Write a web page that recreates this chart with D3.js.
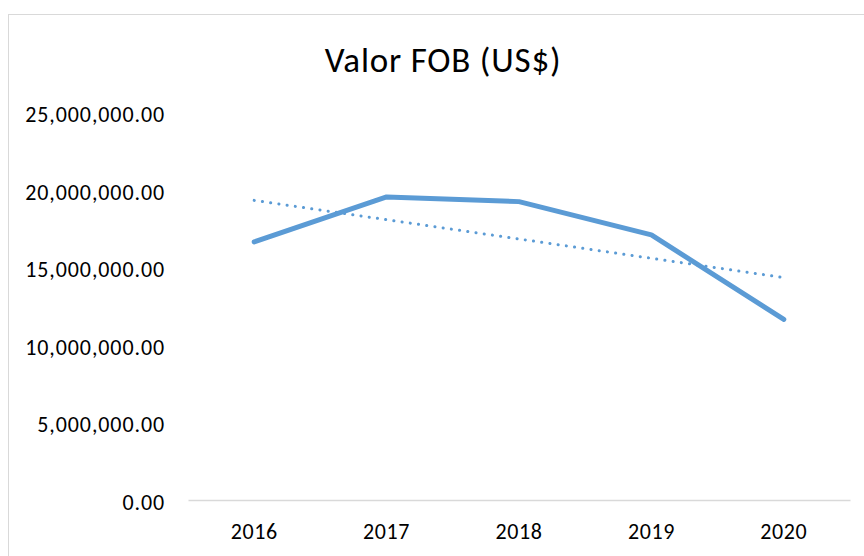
<!DOCTYPE html>
<html>
<head>
<meta charset="utf-8">
<script src="https://cdn.jsdelivr.net/npm/d3@7"></script>
<style>
  body { margin: 0; background: #fff; }
  text { font-family: Calibri, Carlito, Lato, sans-serif; fill: #000; }
</style>
</head>
<body>
<svg id="chart" width="864" height="556"></svg>
<script>
// values
var years = ["2016", "2017", "2018", "2019", "2020"];
var fobValues = [16650000, 19550000, 19250000, 17100000, 11650000];
var yTicks = [0, 5000000, 10000000, 15000000, 20000000, 25000000];

var svg = d3.select("#chart"),
    width = +svg.attr("width"),
    height = +svg.attr("height"),
    blue = "#5b9bd5";

var margin = {left: 188, right: 14, top: 112.5, bottom: 56};

// chart area border (cut at right and bottom like the picture)
svg.append("rect")
    .attr("x", 8.5).attr("y", 14.5)
    .attr("width", width).attr("height", height)
    .attr("fill", "none")
    .attr("stroke", "#d9d9d9");

var x = d3.scaleBand()
    .domain(years)
    .range([margin.left, width - margin.right]);

var y = d3.scaleLinear()
    .domain([0, 25000000])
    .range([height - margin.bottom, margin.top]);

svg.append("text")
    .attr("x", 443).attr("y", 72)
    .attr("text-anchor", "middle")
    .style("font-size", "35px")
    .style("letter-spacing", "0.8px")
    .text("Valor FOB (US$)");

// y axis labels only
var fmt = d3.format(",.2f");
var yAxis = svg.append("g")
    .attr("transform", "translate(" + 165 + ",0)")
    .call(d3.axisLeft(y).tickValues(yTicks).tickFormat(fmt).tickSize(0).tickPadding(0));
yAxis.select(".domain").remove();
yAxis.selectAll("text")
    .attr("dy", "0.43em")
    .style("font-size", "22px")
    .style("letter-spacing", "0.9px")
    .style("font-family", null);

// x axis with baseline
var xAxis = svg.append("g")
    .attr("transform", "translate(0," + y(0) + ")")
    .call(d3.axisBottom(x).tickSize(0).tickPadding(23.4));
xAxis.select(".domain").attr("stroke", "#d9d9d9").attr("stroke-width", 1.5);
xAxis.selectAll("text")
    .style("font-size", "22px")
    .style("letter-spacing", "0.6px")
    .style("font-family", null);

var cx = function (d, i) { return x(years[i]) + x.bandwidth() / 2; };

// main series
svg.append("path")
    .datum(fobValues)
    .attr("fill", "none")
    .attr("stroke", blue)
    .attr("stroke-width", 5)
    .attr("stroke-linecap", "round")
    .attr("stroke-linejoin", "round")
    .attr("d", d3.line().x(cx).y(function (d) { return y(d); }));

// linear trendline, least squares over the same values
var n = fobValues.length,
    meanX = (n - 1) / 2,
    meanY = d3.mean(fobValues),
    slope = d3.sum(fobValues, function (d, i) { return (i - meanX) * (d - meanY); }) /
            d3.sum(fobValues, function (d, i) { return (i - meanX) * (i - meanX); });
var trend = fobValues.map(function (d, i) { return meanY + slope * (i - meanX); });

svg.append("path")
    .datum(trend)
    .attr("fill", "none")
    .attr("stroke", blue)
    .attr("stroke-width", 3)
    .attr("stroke-linecap", "round")
    .attr("stroke-dasharray", "0.1 8.2")
    .attr("d", d3.line().x(cx).y(function (d) { return y(d); }));
</script>
</body>
</html>
